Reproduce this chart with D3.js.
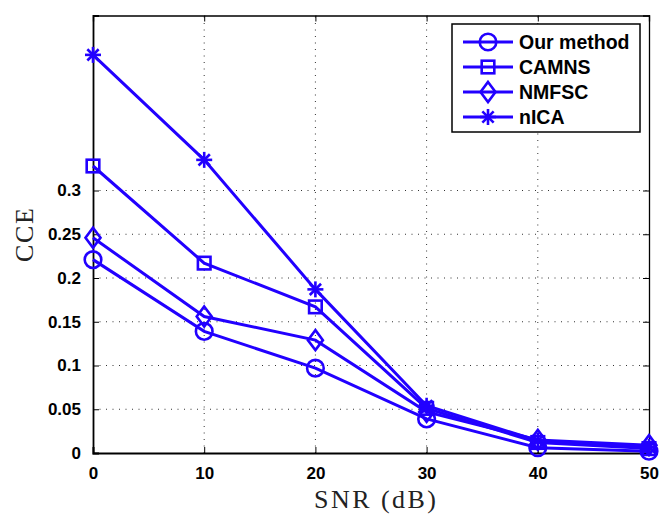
<!DOCTYPE html>
<html>
<head>
<meta charset="utf-8">
<script src="https://cdn.jsdelivr.net/npm/d3@7"></script>
<style>
  body { margin: 0; background: #fff; }
  svg { display: block; }
</style>
</head>
<body>
<script>
// Data
const snr = [0, 10, 20, 30, 40, 50];
const ourMethod = [0.221, 0.139, 0.097, 0.039, 0.006, 0.002];
const camns = [0.328, 0.217, 0.167, 0.051, 0.012, 0.005];
const nmfsc = [0.246, 0.156, 0.129, 0.047, 0.015, 0.009];
const nica = [0.455, 0.335, 0.187, 0.054, 0.014, 0.007];
const seriesNames = ['Our method', 'CAMNS', 'NMFSC', 'nICA'];
const markers = ['circle', 'square', 'diamond', 'star'];
const xTicks = [0, 10, 20, 30, 40, 50];
const yTicks = [0, 0.05, 0.1, 0.15, 0.2, 0.25, 0.3];

const series = [ourMethod, camns, nmfsc, nica].map((vals, i) => ({
    name: seriesNames[i],
    marker: markers[i],
    values: vals.map((v, j) => ({ x: snr[j], y: v }))
}));

const W = 660, H = 520;
const m = { left: 93, right: 11, top: 15.5, bottom: 67 };
const blue = '#2200ff';

const svg = d3.select('body').append('svg')
    .attr('width', W)
    .attr('height', H);

const x = d3.scaleLinear().domain([0, 50]).range([m.left, W - m.right]);
const y = d3.scaleLinear().domain([0, 0.5]).range([H - m.bottom, m.top]);

// Grid (dotted)
const grid = svg.append('g').attr('stroke', '#333').attr('stroke-width', 1)
    .attr('stroke-dasharray', '1,5.5');
grid.selectAll('.gx').data(xTicks.slice(1, -1)).enter().append('line')
    .attr('x1', d => x(d)).attr('x2', d => x(d))
    .attr('y1', y(0)).attr('y2', y(0.5));
grid.selectAll('.gy').data(yTicks.slice(1)).enter().append('line')
    .attr('x1', x(0)).attr('x2', x(50))
    .attr('y1', d => y(d)).attr('y2', d => y(d));

// Axes
const tickFont = g => g.selectAll('text')
    .attr('font-family', 'Liberation Sans, Arial, sans-serif')
    .attr('font-weight', 'bold')
    .attr('font-size', 17)
    .attr('fill', '#000');

svg.append('g')
    .attr('transform', `translate(0,${y(0)})`)
    .call(d3.axisBottom(x).tickValues(xTicks).tickSize(-6).tickPadding(14).tickFormat(d3.format('d')))
    .call(g => g.select('.domain').attr('stroke-width', 2))
    .call(tickFont);

svg.append('g')
    .attr('transform', `translate(${x(0)},0)`)
    .call(d3.axisLeft(y).tickValues(yTicks).tickSize(-6).tickPadding(12).tickFormat(d => d === 0 ? '0' : String(d)))
    .call(g => g.select('.domain').attr('stroke-width', 1.8))
    .call(tickFont);

svg.append('g')
    .attr('transform', `translate(0,${y(0.5)})`)
    .call(d3.axisTop(x).tickValues(xTicks).tickSize(-6).tickFormat(''))
    .call(g => g.select('.domain').attr('stroke-width', 1.3));

svg.append('g')
    .attr('transform', `translate(${x(50)},0)`)
    .call(d3.axisRight(y).tickValues(yTicks).tickSize(-6).tickFormat(''))
    .call(g => g.select('.domain').attr('stroke-width', 1.3));

svg.selectAll('.domain').attr('stroke', '#000');

// Axis titles
svg.append('text')
    .attr('x', 375).attr('y', 508)
    .attr('text-anchor', 'middle')
    .attr('font-family', 'Liberation Serif, Times New Roman, serif')
    .attr('font-size', 26)
    .attr('textLength', 122)
    .attr('lengthAdjust', 'spacing')
    .attr('fill', '#222')
    .text('SNR (dB)');

svg.append('text')
    .attr('transform', 'translate(33,235) rotate(-90)')
    .attr('text-anchor', 'middle')
    .attr('font-family', 'Liberation Serif, Times New Roman, serif')
    .attr('font-size', 26)
    .attr('textLength', 54)
    .attr('lengthAdjust', 'spacing')
    .attr('fill', '#222')
    .text('CCE');

// Marker drawing
function drawMarker(sel, type) {
    const g = sel.attr('fill', 'none').attr('stroke', blue).attr('stroke-width', 2.6);
    if (type === 'circle') {
        g.append('circle').attr('r', 8.3);
    } else if (type === 'square') {
        g.append('rect').attr('x', -6.3).attr('y', -6.3).attr('width', 12.6).attr('height', 12.6);
    } else if (type === 'diamond') {
        g.append('path').attr('d', 'M0,-10 L7.5,0 L0,10 L-7.5,0 Z');
    } else {
        const r = 8;
        [0, 45, 90, 135].forEach(a => {
            const rad = a * Math.PI / 180;
            g.append('line')
                .attr('x1', -r * Math.cos(rad)).attr('y1', -r * Math.sin(rad))
                .attr('x2', r * Math.cos(rad)).attr('y2', r * Math.sin(rad));
        });
    }
}

const line = d3.line().x(d => x(d.x)).y(d => y(d.y));

series.forEach(s => {
    svg.append('path')
        .datum(s.values)
        .attr('fill', 'none')
        .attr('stroke', blue)
        .attr('stroke-width', 3)
        .attr('d', line);
    svg.append('g').selectAll('g')
        .data(s.values)
        .enter()
        .append('g')
        .attr('transform', d => `translate(${x(d.x)},${y(d.y)})`)
        .each(function () { drawMarker(d3.select(this), s.marker); });
});

// Legend
const legend = svg.append('g').attr('id', 'legend');
legend.append('rect')
    .attr('x', 452).attr('y', 24).attr('width', 188).attr('height', 108)
    .attr('fill', '#fff').attr('stroke', '#000').attr('stroke-width', 1.5);

series.forEach((s, i) => {
    const cy = 42 + i * 25;
    legend.append('line')
        .attr('x1', 463).attr('x2', 513).attr('y1', cy).attr('y2', cy)
        .attr('stroke', blue).attr('stroke-width', 3);
    legend.append('g')
        .attr('transform', `translate(488,${cy})`)
        .call(g => drawMarker(g, s.marker));
    legend.append('text')
        .attr('x', 519).attr('y', cy + 7)
        .attr('font-family', 'Liberation Sans, Arial, sans-serif')
        .attr('font-weight', 'bold')
        .attr('font-size', 19.5)
        .text(s.name);
});
</script>
</body>
</html>
